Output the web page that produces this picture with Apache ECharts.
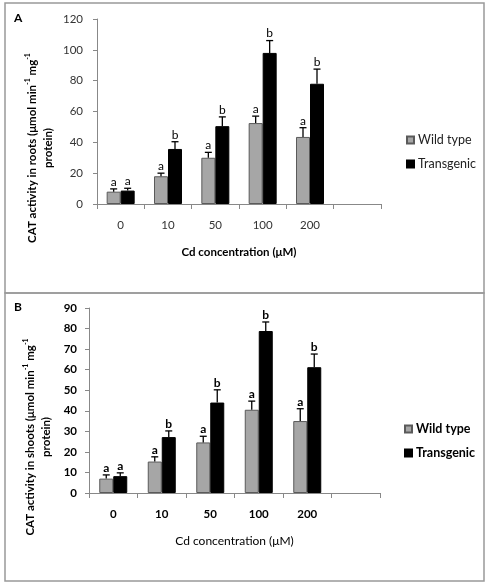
<!DOCTYPE html>
<html>
<head>
<meta charset="utf-8">
<script src="https://cdn.jsdelivr.net/npm/echarts@6/dist/echarts.min.js"></script>
<style>html,body{margin:0;padding:0;background:#fff}#c{width:489px;height:585px}</style>
</head>
<body>
<div id="c"></div>
<script>
var categories = ['0', '10', '50', '100', '200', ''];
var rootsWild = [8, 18, 30, 52.5, 43.5];
var rootsWildErr = [1.8, 2, 3.5, 4.5, 6];
var rootsTrans = [8.7, 35.7, 50.5, 98, 78];
var rootsTransErr = [1.5, 4.7, 6, 8, 9.5];
var rootsWildLetters = ['a', 'a', 'a', 'a', 'a'];
var rootsTransLetters = ['a', 'b', 'b', 'b', 'b'];

var shootsWild = [7, 15.3, 24.6, 40.5, 35];
var shootsWildErr = [1.8, 2.3, 3, 4.2, 6];
var shootsTrans = [8.2, 27.2, 44, 78.8, 61.2];
var shootsTransErr = [1.6, 3, 6.2, 4.4, 6.4];
var shootsWildLetters = ['a', 'a', 'a', 'a', 'a'];
var shootsTransLetters = ['a', 'b', 'b', 'b', 'b'];

var rootsTicks = {min: 0, max: 120, interval: 20};
var shootsTicks = {min: 0, max: 90, interval: 10};

var FONT = 'Lato, "Open Sans", sans-serif';
var GRAY = '#a6a6a6';
var GRAY_BORDER = '#5a5a5a';
var BAR_W = 14;

function errData(vals, errs, side) {
  return vals.map(function (v, i) { return [i, v, errs[i], side]; });
}

function errSeries(name, xi, vals, errs, side, letters, bold) {
  return {
    type: 'custom', name: name + '_err', xAxisIndex: xi, yAxisIndex: xi, z: 5,
    silent: true, legendHoverLink: false,
    data: errData(vals, errs, side),
    renderItem: function (params, api) {
      var c = api.value(0), v = api.value(1), e = api.value(2), s = api.value(3);
      var x = api.coord([c, 0])[0] + (s === 0 ? -BAR_W / 2 : BAR_W / 2);
      var y0 = api.coord([c, v])[1];
      var y1 = api.coord([c, v + e])[1];
      var st = {stroke: '#000', lineWidth: 1.3};
      return {
        type: 'group',
        children: [
          {type: 'line', shape: {x1: x, y1: y0, x2: x, y2: y1}, style: st},
          {type: 'line', shape: {x1: x - 3.5, y1: y1, x2: x + 3.5, y2: y1}, style: st},
          {type: 'text', x: x, y: y1 - 1, style: {
            text: letters[params.dataIndex], fill: '#000',
            font: (bold ? 'bold ' : '') + '12px ' + FONT,
            align: 'center', verticalAlign: 'bottom'
          }}
        ]
      };
    }
  };
}

function xAxisCfg(gi, bold, nameFont) {
  return {
    type: 'category', gridIndex: gi, data: categories,
    boundaryGap: true,
    axisLine: {lineStyle: {color: '#888', width: 1}},
    axisTick: {show: true, length: 5, lineStyle: {color: '#888'}},
    axisLabel: {margin: 15, color: bold ? '#000' : '#333', fontFamily: FONT,
      fontSize: 11.5, fontWeight: bold ? 'bold' : 'normal'},
    name: 'Cd concentration (μM)', nameLocation: 'middle', nameGap: 42,
    nameTextStyle: nameFont
  };
}

function yAxisCfg(gi, t, bold, margin) {
  return {
    type: 'value', gridIndex: gi, min: t.min, max: t.max, interval: t.interval,
    splitLine: {show: false},
    axisLine: {show: true, lineStyle: {color: '#888', width: 1}},
    axisTick: {show: true, length: 4, lineStyle: {color: '#888'}},
    axisLabel: {margin: margin, color: bold ? '#000' : '#333', fontFamily: FONT,
      fontSize: 11.5, fontWeight: bold ? 'bold' : 'normal'}
  };
}

function ytitle(x, y, w1) {
  return {
    type: 'text', x: x, y: y, rotation: Math.PI / 2,
    style: {
      text: '{t|CAT activity in ' + w1 + ' (μmol min}{s|-1}{t| mg}{s|-1}\n{t|protein)}',
      align: 'center', verticalAlign: 'middle',
      rich: {
        t: {fontFamily: FONT, fontSize: 11.5, fontWeight: 'bold', fill: '#000', lineHeight: 16},
        s: {fontFamily: FONT, fontSize: 7, fontWeight: 'bold', fill: '#000', lineHeight: 16, verticalAlign: 'top'}
      }
    }
  };
}

var chart = echarts.init(document.getElementById('c'), null, {renderer: 'canvas'});
chart.setOption({
  animation: false,
  backgroundColor: '#fff',
  grid: [
    {left: 97, right: 108, top: 19, height: 185},
    {left: 89, right: 109, top: 308, height: 185}
  ],
  xAxis: [
    xAxisCfg(0, false, {fontFamily: FONT, fontSize: 11.5, fontWeight: 'bold', color: '#000'}),
    xAxisCfg(1, true, {fontFamily: FONT, fontSize: 12, fontWeight: 'normal', color: '#000'})
  ],
  yAxis: [
    yAxisCfg(0, rootsTicks, false, 14),
    yAxisCfg(1, shootsTicks, true, 12)
  ],
  legend: [
    {orient: 'vertical', left: 401, top: 128, itemWidth: 7, itemHeight: 7, itemGap: 10,
     data: ['Wild type', 'Transgenic'], icon: 'rect',
     textStyle: {fontFamily: FONT, fontSize: 12.5, color: '#222', lineHeight: 14, padding: [0, 0, 0, -1]}},
    {orient: 'vertical', left: 399, top: 417, itemWidth: 7, itemHeight: 7, itemGap: 10,
     data: ['Wild type', 'Transgenic'], icon: 'rect',
     textStyle: {fontFamily: FONT, fontSize: 12.5, fontWeight: 'bold', color: '#000', lineHeight: 14, padding: [0, 0, 0, -1]}}
  ],
  series: [
    {type: 'bar', name: 'Wild type', xAxisIndex: 0, yAxisIndex: 0, data: rootsWild,
     barWidth: BAR_W, barGap: '0%', itemStyle: {color: GRAY, borderColor: GRAY_BORDER, borderWidth: 1}},
    {type: 'bar', name: 'Transgenic', xAxisIndex: 0, yAxisIndex: 0, data: rootsTrans,
     barWidth: BAR_W, barGap: '0%', itemStyle: {color: '#000', borderColor: '#000', borderWidth: 1}},
    errSeries('Wild type', 0, rootsWild, rootsWildErr, 0, rootsWildLetters, false),
    errSeries('Transgenic', 0, rootsTrans, rootsTransErr, 1, rootsTransLetters, false),
    {type: 'bar', name: 'Wild type', xAxisIndex: 1, yAxisIndex: 1, data: shootsWild,
     barWidth: BAR_W, barGap: '0%', itemStyle: {color: GRAY, borderColor: GRAY_BORDER, borderWidth: 1}},
    {type: 'bar', name: 'Transgenic', xAxisIndex: 1, yAxisIndex: 1, data: shootsTrans,
     barWidth: BAR_W, barGap: '0%', itemStyle: {color: '#000', borderColor: '#000', borderWidth: 1}},
    errSeries('Wild type', 1, shootsWild, shootsWildErr, 0, shootsWildLetters, true),
    errSeries('Transgenic', 1, shootsTrans, shootsTransErr, 1, shootsTransLetters, true)
  ],
  graphic: [
    {type: 'rect', shape: {x: 5, y: 3, width: 479, height: 290}, style: {fill: 'none', stroke: '#999', lineWidth: 1.5}},
    {type: 'rect', shape: {x: 5, y: 293, width: 479, height: 288}, style: {fill: 'none', stroke: '#999', lineWidth: 1.5}},
    {type: 'text', x: 14, y: 12, style: {text: 'A', font: 'bold 12px ' + FONT, fill: '#000'}},
    {type: 'text', x: 14, y: 301, style: {text: 'B', font: 'bold 12px ' + FONT, fill: '#000'}},
    ytitle(40, 148, 'roots'),
    ytitle(38, 437, 'shoots')
  ]
});
</script>
</body>
</html>
